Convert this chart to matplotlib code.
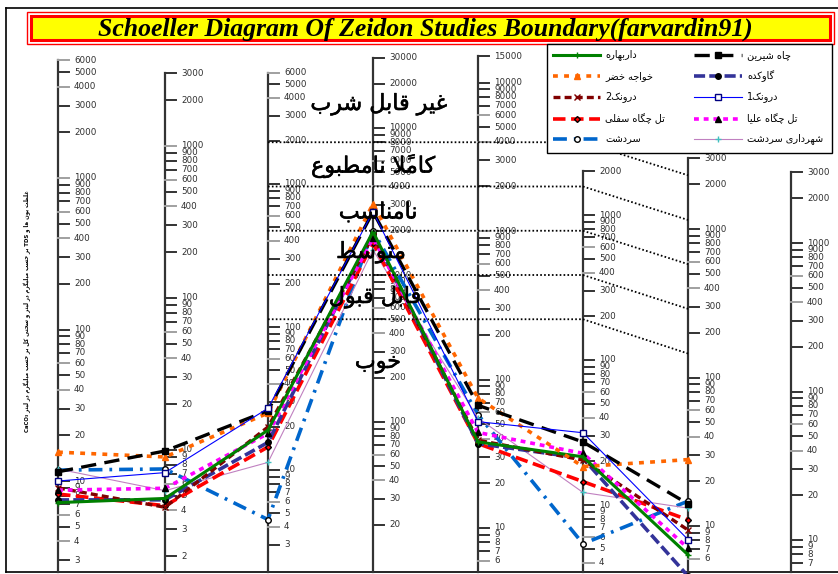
import numpy as np
import matplotlib
matplotlib.use("Agg")
import matplotlib.pyplot as plt
from matplotlib.patches import Rectangle
import matplotlib.patheffects as pe

plt.rcParams["lines.scale_dashes"] = False
plt.rcParams["font.family"] = ["DejaVu Sans"]

# ---------------------------------------------------------------- data
stations = ["داربهاره", "خواجه خضر", "درونک2", "تل چگاه سفلی", "سردشت",
            "چاه شیرین", "گاوکده", "درونک1", "تل چگاه علیا", "شهرداری سردشت"]

# concentrations on the seven plotted scales (mg/L; hardness as CaCO3)
darbahareh = [7.2, 4.8, 19, 1970, 38, 21.5, 6.4]
khajeh_khezr = [15.5, 9.0, 25, 3050, 75, 18.4, 28]
darunak2 = [9.0, 4.2, 20, 1840, 39, 20.4, 9.4]
tol_chegah_sofla = [8.2, 4.3, 14.5, 1650, 37, 14.5, 11]
sardasht = [11.8, 7.5, 4.5, 2000, 58, 5.4, 14.7]
chah_shirin = [11.5, 9.85, 26, 2690, 67, 27.2, 14.1]
gavkadeh = [7.5, 4.7, 15.6, 1900, 37, 21, 4.6]
darunak1 = [10.0, 7.1, 27, 2700, 52, 31.5, 8.1]
tol_chegah_olya = [8.7, 5.6, 18, 1780, 44, 22.7, 7.1]
shahrdari_sardasht = [12.0, 5.4, 11.3, 1480, 55, 12.2, 13.2]

series = [darbahareh, khajeh_khezr, darunak2, tol_chegah_sofla, sardasht,
          chah_shirin, gavkadeh, darunak1, tol_chegah_olya, shahrdari_sardasht]

# drinking-water class limits: TDS scale and sulfate scale
tds_limits = [500, 1000, 2000, 4000, 8000]
so4_limits = [145, 290, 580, 1150, 2300]
class_names = ["خوب", "قابل قبول", "متوسط", "نامناسب", "کاملاً نامطبوع", "غیر قابل شرب"]

# tick labels of the eight scales
ticks_1 = [3, 4, 5, 6, 7, 8, 9, 10, 20, 30, 40, 50, 60, 70, 80, 90, 100, 200, 300, 400,
           500, 600, 700, 800, 900, 1000, 2000, 3000, 4000, 5000, 6000]
ticks_2 = [2, 3, 4, 5, 6, 7, 8, 9, 10, 20, 30, 40, 50, 60, 70, 80, 90, 100, 200, 300,
           400, 500, 600, 700, 800, 900, 1000, 2000, 3000]
ticks_3 = [3, 4, 5, 6, 7, 8, 9, 10, 20, 30, 40, 50, 60, 70, 80, 90, 100, 200, 300, 400,
           500, 600, 700, 800, 900, 1000, 2000, 3000, 4000, 5000, 6000]
ticks_4 = [20, 30, 40, 50, 60, 70, 80, 90, 100, 200, 300, 400, 500, 600, 700, 800, 900,
           1000, 2000, 3000, 4000, 5000, 6000, 7000, 8000, 9000, 10000, 20000, 30000]
ticks_5 = [6, 7, 8, 9, 10, 20, 30, 40, 50, 60, 70, 80, 90, 100, 200, 300, 400, 500, 600,
           700, 800, 900, 1000, 2000, 3000, 4000, 5000, 6000, 7000, 8000, 9000, 10000, 15000]
ticks_6 = [4, 5, 6, 7, 8, 9, 10, 20, 30, 40, 50, 60, 70, 80, 90, 100, 200, 300, 400, 500,
           600, 700, 800, 900, 1000, 2000]
ticks_7 = [6, 7, 8, 9, 10, 20, 30, 40, 50, 60, 70, 80, 90, 100, 200, 300, 400, 500, 600,
           700, 800, 900, 1000, 2000, 3000]
ticks_8 = [7, 8, 9, 10, 20, 30, 40, 50, 60, 70, 80, 90, 100, 200, 300, 400, 500, 600,
           700, 800, 900, 1000, 2000, 3000]
scale_ticks = [ticks_1, ticks_2, ticks_3, ticks_4, ticks_5, ticks_6, ticks_7, ticks_8]

# ---------------------------------------------------------------- layout
W, H = 838, 574
AXIS_X = [58, 165, 268, 373, 478, 583, 688, 791]
Y_AT_1000 = [178, 146, 184, 275, 231, 215, 229, 243]
PX_PER_DECADE = [151.5, 152, 143, 147, 148.5, 145, 148.5, 148.5]
FRAME_BOTTOM = 572


def ypos(k, v):
    """Vertical pixel position of value v on logarithmic scale k."""
    return Y_AT_1000[k] - PX_PER_DECADE[k] * np.log10(np.asarray(v, float) / 1000.0)


# ---------------------------------------------------------------- Persian shaping
_DUAL = {
    "ب": "\uFE8F\uFE90\uFE91\uFE92", "پ": "\uFB56\uFB57\uFB58\uFB59",
    "ت": "\uFE95\uFE96\uFE97\uFE98", "ث": "\uFE99\uFE9A\uFE9B\uFE9C",
    "ج": "\uFE9D\uFE9E\uFE9F\uFEA0", "چ": "\uFB7A\uFB7B\uFB7C\uFB7D",
    "ح": "\uFEA1\uFEA2\uFEA3\uFEA4", "خ": "\uFEA5\uFEA6\uFEA7\uFEA8",
    "س": "\uFEB1\uFEB2\uFEB3\uFEB4", "ش": "\uFEB5\uFEB6\uFEB7\uFEB8",
    "ص": "\uFEB9\uFEBA\uFEBB\uFEBC", "ض": "\uFEBD\uFEBE\uFEBF\uFEC0",
    "ط": "\uFEC1\uFEC2\uFEC3\uFEC4", "ظ": "\uFEC5\uFEC6\uFEC7\uFEC8",
    "ع": "\uFEC9\uFECA\uFECB\uFECC", "غ": "\uFECD\uFECE\uFECF\uFED0",
    "ف": "\uFED1\uFED2\uFED3\uFED4", "ق": "\uFED5\uFED6\uFED7\uFED8",
    "ک": "\uFB8E\uFB8F\uFB90\uFB91", "گ": "\uFB92\uFB93\uFB94\uFB95",
    "ل": "\uFEDD\uFEDE\uFEDF\uFEE0", "م": "\uFEE1\uFEE2\uFEE3\uFEE4",
    "ن": "\uFEE5\uFEE6\uFEE7\uFEE8", "ه": "\uFEE9\uFEEA\uFEEB\uFEEC",
    "ی": "\uFBFC\uFBFD\uFBFE\uFBFF",
}
_RIGHT = {
    "ا": "\uFE8D\uFE8E", "د": "\uFEA9\uFEAA", "ذ": "\uFEAB\uFEAC",
    "ر": "\uFEAD\uFEAE", "ز": "\uFEAF\uFEB0", "ژ": "\uFB8A\uFB8B",
    "و": "\uFEED\uFEEE",
}


def _is_mark(c):
    return "\u064B" <= c <= "\u0652"


def _is_arabic(c):
    return c in _DUAL or c in _RIGHT or _is_mark(c) or "\uFB50" <= c <= "\uFEFF"


def fa(text):
    """Contextual forms + right-to-left ordering for matplotlib."""
    chars = list(text)
    n = len(chars)
    clusters = []
    prev_joins = False
    i = 0
    while i < n:
        c = chars[i]
        if _is_mark(c):
            clusters[-1] += c
            i += 1
            continue
        j = i + 1
        while j < n and _is_mark(chars[j]):
            j += 1
        nxt = chars[j] if j < n else None
        if c == "ل" and nxt == "ا":
            clusters.append(("\uFEFC" if prev_joins else "\uFEFB") + "".join(chars[i + 1:j]))
            prev_joins = False
            i = j + 1
            continue
        if c in _DUAL:
            f = _DUAL[c]
            jn = nxt is not None and (nxt in _DUAL or nxt in _RIGHT)
            g = f[3] if (prev_joins and jn) else f[1] if prev_joins else f[2] if jn else f[0]
            clusters.append(g)
            prev_joins = jn
        elif c in _RIGHT:
            clusters.append(_RIGHT[c][1] if prev_joins else _RIGHT[c][0])
            prev_joins = False
        else:
            clusters.append(c)
            prev_joins = False
        i += 1
    # split into direction runs (spaces follow the right-to-left base)
    runs = []
    for cl in clusters:
        ltr = not (_is_arabic(cl[0]) or cl[0] == " ")
        if runs and runs[-1][0] == ltr:
            runs[-1][1].append(cl)
        else:
            runs.append((ltr, [cl]))
    out = []
    for ltr, cls in reversed(runs):
        out.extend(cls if ltr else cls[::-1])
    return "".join(out)


# ---------------------------------------------------------------- figure
fig = plt.figure(figsize=(W / 100, H / 100), dpi=100)
ax = fig.add_axes([0, 0, 1, 1])
ax.set_xlim(0, W)
ax.set_ylim(H, 0)
ax.axis("off")

# outer frame
ax.plot([6, W], [8, 8], color="black", lw=1.2)
ax.plot([6, 6], [8, FRAME_BOTTOM], color="black", lw=1.2)
ax.plot([6, W], [FRAME_BOTTOM, FRAME_BOTTOM], color="black", lw=1.2)

# title banner
ax.add_patch(Rectangle((27, 12), 807, 32, facecolor="white", edgecolor="red", lw=1.0))
ax.add_patch(Rectangle((31, 16), 799, 24, facecolor="yellow", edgecolor="red", lw=2.2))
ax.text(425, 29, "Schoeller Diagram Of Zeidon Studies Boundary(farvardin91)",
        ha="center", va="center", fontsize=18.5, fontweight="bold", style="italic",
        family="Liberation Serif", color="black")

# logarithmic scales
for k, (x, ticks) in enumerate(zip(AXIS_X, scale_ticks)):
    ty = ypos(k, ticks)
    ax.plot([x, x], [ty.min(), FRAME_BOTTOM], color="#333333", lw=1.6, zorder=2)
    for v, y in zip(ticks, ty):
        if y > FRAME_BOTTOM - 4:
            continue
        mant = int(str(v)[0])
        tc = "#a0a0a0" if mant in (4, 6) or (v == 1000 and k in (0, 1, 4)) else "#333333"
        ax.plot([x, x + 11], [y, y], color=tc, lw=1.4, zorder=2)
        ax.text(x + 16, y, f"{v}", ha="left", va="center", fontsize=6.3,
                color="#303030", zorder=2)

# class limits: level across the middle scales, then sloping to the sulfate scale
for t_lim, s_lim in zip(tds_limits, so4_limits):
    yl = float(ypos(3, t_lim))
    yr = float(ypos(6, s_lim))
    ax.plot([AXIS_X[2], AXIS_X[5], AXIS_X[6]], [yl, yl, yr], color="black",
            lw=1.3, dashes=(1.2, 1.6), zorder=6)

# class names between the limits
class_pos = [(378, 363), (375, 297), (371, 252), (378, 212), (373, 166), (379, 104)]
for name, (cx, cy) in zip(class_names, class_pos):
    ax.text(cx, cy, fa(name), ha="center", va="center", fontsize=16, color="black",
            zorder=7, path_effects=[pe.withStroke(linewidth=0.4, foreground="black")])

# line styles of the sampling points
styles = [
    dict(color="#008000", lw=2.2, ls="-", marker="+", ms=5, mec="#008000", mfc="#008000"),
    dict(color="#FF6600", lw=2.6, dashes=(3.5, 4.5), marker="^", ms=4, mec="#FF6600", mfc="#FF6600"),
    dict(color="#800000", lw=2.4, dashes=(5, 3), marker="x", ms=4, mec="#800000", mfc="#800000"),
    dict(color="#FF0000", lw=2.6, dashes=(9, 4), marker="D", ms=3, mec="black", mfc="#FF0000"),
    dict(color="#0066CC", lw=2.6, dashes=(10, 5, 2, 5), marker="o", ms=4, mec="black", mfc="white"),
    dict(color="#000000", lw=2.4, dashes=(11, 6), marker="s", ms=4, mec="black", mfc="black"),
    dict(color="#333399", lw=2.6, dashes=(8, 3), marker="o", ms=4, mec="black", mfc="black"),
    dict(color="#0000FF", lw=0.8, ls="-", marker="s", ms=4, mec="#000080", mfc="white"),
    dict(color="#FF00FF", lw=2.6, dashes=(3.5, 3.5), marker="^", ms=4, mec="black", mfc="black"),
    dict(color="#C080C0", lw=0.8, ls="-", marker="+", ms=5, mec="#40C0C0", mfc="#40C0C0"),
]
draw_order = [4, 9, 3, 6, 2, 8, 0, 1, 5, 7]
for idx in draw_order:
    vals = series[idx]
    xs = AXIS_X[:len(vals)]
    ys = [float(ypos(k, v)) for k, v in enumerate(vals)]
    ax.plot(xs, ys, zorder=4, **styles[idx])

# legend
ax.add_patch(Rectangle((547, 44), 285, 109, facecolor="white", edgecolor="black", lw=1.0, zorder=8))
row_y = [55, 76, 97, 119, 139]
col_x = [(553, 600, 605), (694, 742, 747)]
for idx, name in enumerate(stations):
    col, row = divmod(idx, 5)
    x0, x1, tx = col_x[col]
    y = row_y[row]
    st = dict(styles[idx])
    st.pop("marker"); st.pop("ms"); st.pop("mec"); st.pop("mfc")
    ax.plot([x0, x1], [y, y], zorder=9, **st)
    ax.plot([(x0 + x1) / 2], [y], ls="none", marker=styles[idx]["marker"],
            ms=styles[idx]["ms"], mec=styles[idx]["mec"], mfc=styles[idx]["mfc"], zorder=10)
    ax.text(tx, y, fa(name), ha="left", va="center", fontsize=7, color="black", zorder=10)

# vertical axis title
ylab = "غلظت یون ها و TDS بر حسب میلیگرم در لیتر و سختی کل بر حسب میلیگرم در لیتر CaCO₃"
ax.text(27, 311, fa(ylab), rotation=90, ha="center", va="center", fontsize=4.3,
        fontstretch="condensed", fontweight="bold", color="black")

fig.savefig("out.png", dpi=100)
